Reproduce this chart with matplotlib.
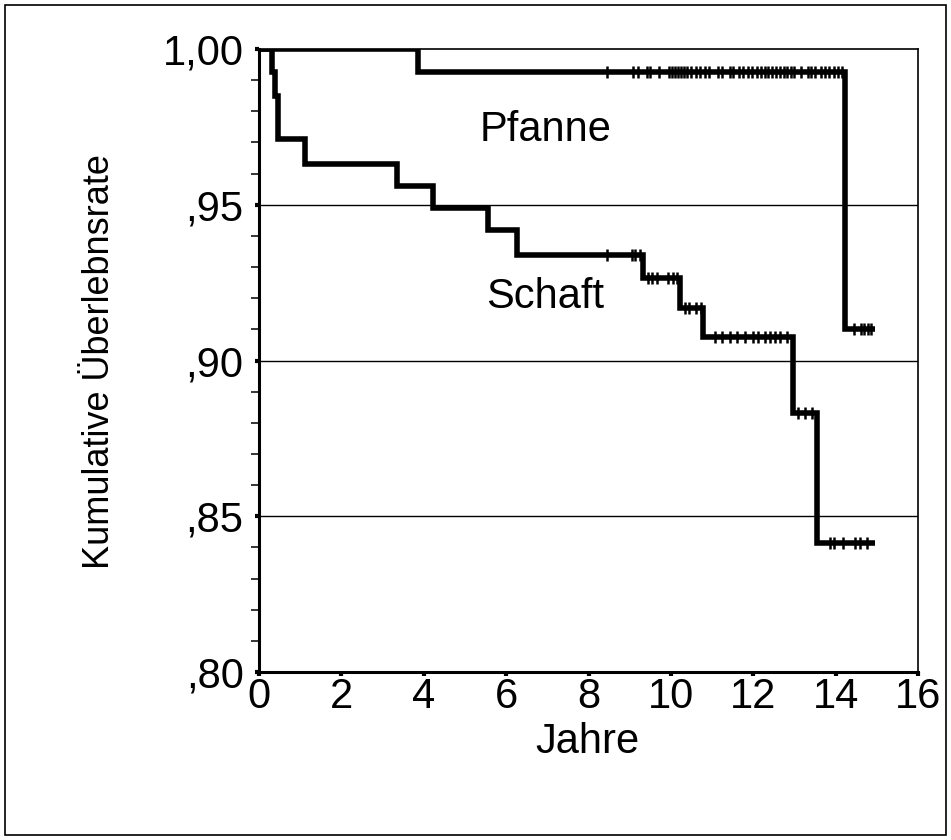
import matplotlib
matplotlib.use("Agg")
import matplotlib.pyplot as plt
from matplotlib.patches import Rectangle
from matplotlib.ticker import MultipleLocator

plt.rcParams['font.family'] = ['Liberation Sans', 'DejaVu Sans']

# Pfanne (cup): event times and survival after each event
pfanne_times = [0.0, 3.85, 14.22]
pfanne_surv = [1.000, 0.9926, 0.910]
pfanne_end = 14.95
pfanne_cens = [8.45, 9.08, 9.2, 9.42, 9.5, 9.7, 9.95, 10.02, 10.1, 10.18, 10.25,
               10.32, 10.4, 10.48, 10.62, 10.7, 10.82, 10.92, 11.15, 11.25, 11.43,
               11.5, 11.65, 11.75, 11.88, 11.97, 12.1, 12.2, 12.28, 12.36, 12.45,
               12.55, 12.65, 12.75, 12.83, 12.92, 13.0, 13.15, 13.32, 13.4, 13.5,
               13.65, 13.75, 13.85, 13.95, 14.05, 14.15,
               14.45, 14.62, 14.7, 14.78, 14.85]

# Schaft (stem)
schaft_times = [0.0, 0.32, 0.38, 0.46, 1.12, 3.35, 4.22, 5.56, 6.27, 9.33,
                10.22, 10.78, 12.96, 13.55]
schaft_surv = [1.000, 0.9926, 0.985, 0.971, 0.963, 0.956, 0.949, 0.942, 0.934,
               0.9265, 0.917, 0.9075, 0.883, 0.8414]
schaft_end = 14.95
schaft_cens = [8.45, 9.05, 9.13, 9.25, 9.45, 9.55, 9.66, 9.93, 10.05, 10.15,
               10.35, 10.45, 10.6, 10.72, 11.07, 11.24, 11.43, 11.6, 11.8, 11.99,
               12.11, 12.28, 12.4, 12.52, 12.65, 12.82, 13.09, 13.26, 13.43,
               13.86, 13.95, 14.18, 14.47, 14.6, 14.76]

xticks = [0, 2, 4, 6, 8, 10, 12, 14, 16]
yticks = [0.80, 0.85, 0.90, 0.95, 1.00]
ytick_labels = [",80", ",85", ",90", ",95", "1,00"]


def surv_at(times, surv, t):
    s = surv[0]
    for ti, si in zip(times, surv):
        if ti <= t:
            s = si
    return s


fig = plt.figure(figsize=(9.51, 8.4), dpi=100)
ax = fig.add_axes([259 / 951, 1 - 672 / 840, (918 - 259) / 951, (672 - 49) / 840])

for yv in [0.85, 0.90, 0.95]:
    ax.axhline(yv, color='black', lw=1.0, zorder=1)

for times, surv, end, cens in [(pfanne_times, pfanne_surv, pfanne_end, pfanne_cens),
                               (schaft_times, schaft_surv, schaft_end, schaft_cens)]:
    xs = list(times) + [end]
    ys = list(surv) + [surv[-1]]
    ax.step(xs, ys, where='post', color='black', lw=4.0, zorder=3,
            solid_joinstyle='miter', solid_capstyle='butt')
    cy = [surv_at(times, surv, c) for c in cens]
    ax.plot(cens, cy, ls='none', marker='|', ms=9, mew=1.8, color='black', zorder=4)

ax.set_xlim(0, 16)
ax.set_ylim(0.80, 1.00)
ax.set_xticks(xticks)
ax.set_xticklabels([str(x) for x in xticks])
ax.set_yticks(yticks)
ax.set_yticklabels(ytick_labels)
ax.yaxis.set_minor_locator(MultipleLocator(0.01))

ax.tick_params(axis='both', which='major', direction='out', length=3, width=3,
               labelsize=30, color='black')
ax.tick_params(axis='y', which='major', pad=8)
ax.tick_params(axis='x', which='major', pad=0.5)
ax.tick_params(axis='y', which='minor', direction='out', length=6, width=1.1)

ax.spines['left'].set_linewidth(2.2)
ax.spines['bottom'].set_linewidth(2.2)
ax.spines['top'].set_linewidth(1.2)
ax.spines['right'].set_linewidth(1.2)

ax.text(6.95, 0.9740, "Pfanne", fontsize=30, ha='center', va='center')
ax.text(6.95, 0.9205, "Schaft", fontsize=30, ha='center', va='center')

fig.text(100 / 951, 1 - 362 / 840, "Kumulative Überlebnsrate", rotation=90,
         fontsize=26, ha='center', va='center')
fig.text(587 / 951, 1 - 742 / 840, "Jahre", fontsize=30, ha='center', va='center')

fig.patches.append(Rectangle((5 / 951, 5 / 840), 941 / 951, 830 / 840,
                             transform=fig.transFigure, fill=False,
                             edgecolor='black', lw=1.2))

fig.savefig("out.png", dpi=100)
